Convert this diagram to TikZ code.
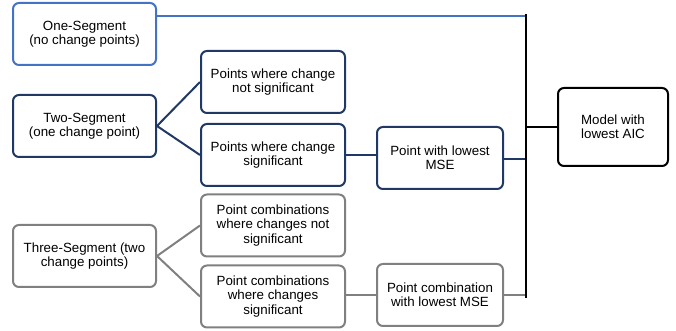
\documentclass[tikz,border=0pt]{standalone}
\usepackage{fontspec}
\setmainfont{Liberation Sans}
\definecolor{segone}{HTML}{4472C4}
\definecolor{segtwo}{HTML}{1F3864}
\definecolor{segthree}{HTML}{808080}
\begin{document}
\begin{tikzpicture}[%
        x=0.75pt, y=-0.75pt,%
        box/.style={%
            rectangle,%
            rounded corners=4.5pt,%
            inner sep=0pt,%
            align=center,%
            line width=1.5pt,%
            font=\fontsize{10}{10.75}\selectfont,%
            minimum height=46.5pt%
        },%
        segbox/.style={box, minimum width=107.25pt},%
        pointbox/.style={box, minimum width=108pt},%
        msebox/.style={box, minimum width=94.5pt},%
        link/.style={line width=1.5pt}%
    ]
    \useasboundingbox (0,0) rectangle (676,331);
    \node (one)   at ( 84.5, 34) [segbox, draw=segone]{One-Segment\\(no change points)};
    \node (two)   at ( 84.5,126) [segbox, draw=segtwo]{Two-Segment\\(one change point)};
    \node (three) at ( 84.5,256) [segbox, draw=segthree]{Three-Segment (two\\change points)};
    \node (twonot)   at (273, 82) [pointbox, draw=segtwo]{Points where change\\not significant};
    \node (twosig)   at (273,155) [pointbox, draw=segtwo]{Points where change\\significant};
    \node (threenot) at (273,225.5) [pointbox, draw=segthree]{Point combinations\\where changes not\\significant};
    \node (threesig) at (273,296.5) [pointbox, draw=segthree]{Point combinations\\where changes\\significant};
    \node (twomse)   at (440,158) [msebox, draw=segtwo]{Point with lowest\\MSE};
    \node (threemse) at (440,295) [msebox, draw=segthree]{Point combination\\with lowest MSE};
    \node (aic) at (613,127) [box, draw=black, minimum width=82.5pt, minimum height=58.5pt]{Model with\\lowest AIC};
    \coordinate (bartop) at (526,14);
    \coordinate (barbot) at (526,298);
    % branches
    \draw [link, segtwo] (twonot.west) -- (two.east) -- (twosig.west);
    \draw [link, segthree] (threenot.west) -- (three.east) -- (threesig.west);
    \draw [link, segtwo] (twosig.east) -- (twosig.east -| twomse.west);
    \draw [link, segthree] (threesig.east |- threemse.west) -- (threemse.west);
    % to the bar
    \draw [link, segone] (one.east |- 0,16) -- (bartop |- 0,16);
    \draw [link, segtwo] (twomse.east |- 0,159) -- (bartop |- 0,159);
    \draw [link, segthree] (threemse.east) -- (threemse.east -| bartop);
    \draw [line width=1.8pt] (bartop) -- (barbot);
    \draw [link] (aic.west) -- (aic.west -| bartop);
\end{tikzpicture}
\end{document}
